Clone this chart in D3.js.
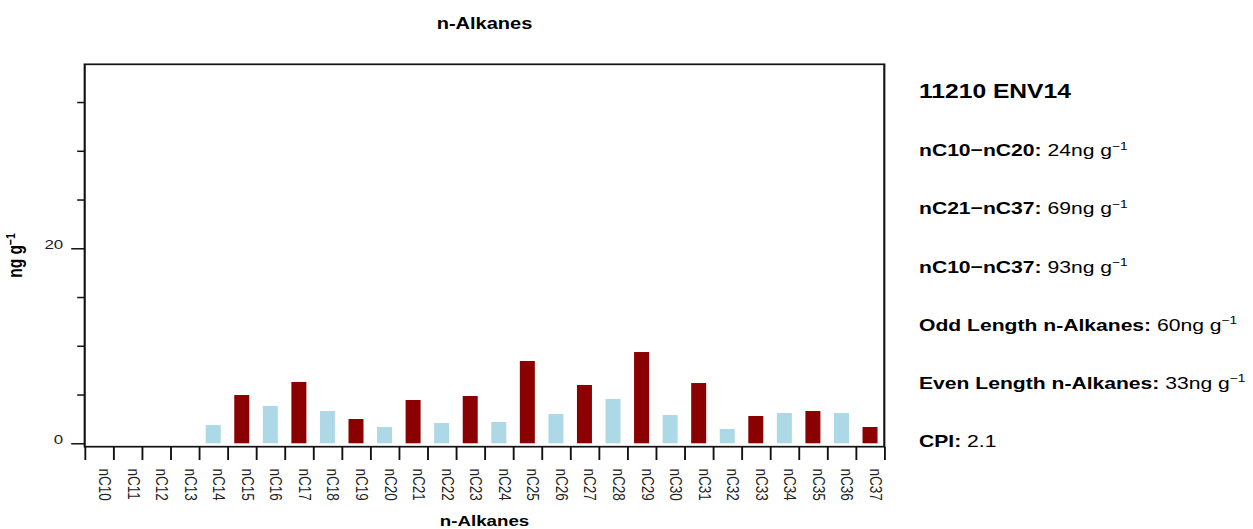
<!DOCTYPE html>
<html>
<head>
<meta charset="utf-8">
<script src="https://cdn.jsdelivr.net/npm/d3@7"></script>
<style>
  html, body { margin: 0; padding: 0; background: #fff; }
  svg { display: block; }
  text { font-family: "Liberation Sans", Arial, Helvetica, sans-serif; }
</style>
</head>
<body>
<svg id="chart"></svg>
<script>
// ---------- data ----------
const categories = ["nC10","nC11","nC12","nC13","nC14","nC15","nC16","nC17","nC18","nC19","nC20","nC21","nC22","nC23","nC24","nC25","nC26","nC27","nC28","nC29","nC30","nC31","nC32","nC33","nC34","nC35","nC36","nC37"];
const values = [0,0,0,0,1.88,4.95,3.83,6.29,3.31,2.49,1.67,4.44,2.08,4.85,2.18,8.44,3.0,5.98,4.54,9.36,2.9,6.18,1.47,2.8,3.1,3.31,3.1,1.67];
const yMajorTicks = [0, 20];
const yMinorTicks = [5, 10, 15, 25, 30, 35];
const sampleName = "11210 ENV14";
const statLabels = ["nC10-nC20:", "nC21-nC37:", "nC10-nC37:", "Odd Length n-Alkanes:", "Even Length n-Alkanes:", "CPI:"];
const statValues = ["24", "69", "93", "60", "33", "2.1"];
const statUnits = [true, true, true, true, true, false];
const chartTitle = "n-Alkanes";
const xTitle = "n-Alkanes";

// ---------- layout ----------
const SW = 1253, SH = 529, K = 1.25;     // output is horizontally stretched by K
const VW = SW / K;
const px = v => v / K;                    // screen x -> viewBox x
const L = px(84.7), R = px(884.3), T = 64.3, B = 446.7;
const ODD = "#8B0000", EVEN = "#ADD8E6", INK = "#111";

const svg = d3.select("#chart")
  .attr("width", SW).attr("height", SH)
  .attr("viewBox", `0 0 ${VW} ${SH}`)
  .attr("preserveAspectRatio", "none");

const x = d3.scaleBand().domain(categories).range([L, R]).padding(0);
const xEdge = d3.scaleLinear().domain([0, categories.length]).range([L, R]);
const y = d3.scaleLinear().domain([-0.35, 38.87]).range([B, T]);

// bars
const bw = x.bandwidth() * 0.525;
svg.append("g").selectAll("rect")
  .data(categories.map((c, i) => ({c, v: values[i], odd: (+c.slice(2)) % 2 === 1})))
  .join("rect")
  .attr("x", d => x(d.c) + (x.bandwidth() - bw) / 2)
  .attr("width", bw)
  .attr("y", d => y(d.v))
  .attr("height", d => Math.max(0, y(0) - y(d.v)))
  .attr("fill", d => d.odd ? ODD : EVEN);

// box
svg.append("rect")
  .attr("x", L).attr("y", T).attr("width", R - L).attr("height", B - T)
  .attr("fill", "none").attr("stroke", INK).attr("stroke-width", 1.7);

// y axis major
const yMaj = svg.append("g").attr("transform", `translate(${L},0)`)
  .call(d3.axisLeft(y).tickValues(yMajorTicks).tickSize(px(13.5)).tickPadding(px(8)).tickFormat(d3.format("d")));
yMaj.select(".domain").remove();
yMaj.selectAll("line").attr("stroke", INK).attr("stroke-width", 1.5);
yMaj.selectAll("text").attr("dy", "0.5").attr("font-size", 13.5).attr("fill", "#222");

// y axis minor
const yMin = svg.append("g").attr("transform", `translate(${L},0)`)
  .call(d3.axisLeft(y).tickValues(yMinorTicks).tickSize(px(7.5)).tickFormat(""));
yMin.select(".domain").remove();
yMin.selectAll("line").attr("stroke", INK).attr("stroke-width", 1.5);

// x axis boundary ticks
const xt = svg.append("g").attr("transform", `translate(0,${B})`)
  .call(d3.axisBottom(xEdge).tickValues(d3.range(categories.length + 1)).tickSize(13.3).tickFormat(""));
xt.select(".domain").remove();
xt.selectAll("line").attr("stroke", INK).attr("stroke-width", 1.5);

// x labels
const xl = svg.append("g").attr("transform", `translate(0,${B})`)
  .call(d3.axisBottom(x).tickSize(0));
xl.select(".domain").remove();
xl.selectAll("line").remove();
xl.selectAll("text")
  .attr("transform", "rotate(90)")
  .attr("x", 468.5 - B).attr("y", 0).attr("dy", 0)
  .attr("font-size", 13.5).attr("fill", "#222")
  .style("text-anchor", "start");

// titles
svg.append("text").attr("x", (L + R) / 2).attr("y", 29.3)
  .attr("text-anchor", "middle").attr("font-weight", "bold").attr("font-size", 16).attr("fill", "#000")
  .text(chartTitle);
svg.append("text").attr("x", (L + R) / 2).attr("y", 526)
  .attr("text-anchor", "middle").attr("font-weight", "bold").attr("font-size", 15).attr("fill", "#000")
  .text(xTitle);

const yt = svg.append("text")
  .attr("transform", `translate(${px(21.5)},${(T + B) / 2}) rotate(-90)`)
  .attr("text-anchor", "middle").attr("font-weight", "bold").attr("font-size", 15.5).attr("fill", "#000");
yt.append("tspan").text("ng g");
yt.append("tspan").attr("font-size", 10.5).attr("dy", -5.5).text("\u22121");

// stats panel
const PX = px(919), base0 = 98.3, step = 58.07;
svg.append("text").attr("x", PX).attr("y", base0)
  .attr("font-weight", "bold").attr("font-size", 19.7).attr("fill", "#000")
  .text(sampleName);
statLabels.forEach((lab, i) => {
  const t = svg.append("text").attr("x", PX).attr("y", base0 + step * (i + 1))
    .attr("font-size", 16.9).attr("fill", "#000");
  t.append("tspan").attr("font-weight", "bold").text(lab.replace(/(nC\d+)-(nC\d+)/, "$1\u2212$2"));
  t.append("tspan").text(" " + statValues[i] + (statUnits[i] ? "ng g" : ""));
  if (statUnits[i]) t.append("tspan").attr("font-size", 11).attr("dy", -6.5).text("\u22121");
});
</script>
</body>
</html>
